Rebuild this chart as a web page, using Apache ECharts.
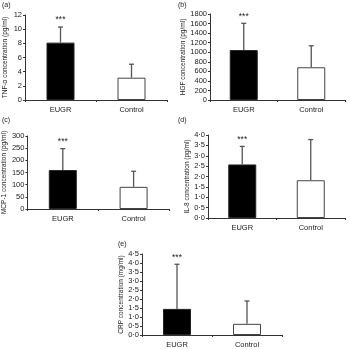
<!DOCTYPE html>
<html>
<head>
<meta charset="utf-8">
<script src="https://cdn.jsdelivr.net/npm/echarts@6/dist/echarts.min.js"></script>
<style>
  html, body { margin: 0; padding: 0; background: #fff; }
  #chart { width: 350px; height: 349px; }
</style>
</head>
<body>
<div id="chart"></div>
<script>
const categories = ['EUGR', 'Control'];

// mean and upper end of the error bar, per panel
const tnfMean = [8.1, 3.15];
const tnfUpper = [10.3, 5.05];
const hgfMean = [1045, 685];
const hgfUpper = [1605, 1135];
const mcpMean = [160, 91];
const mcpUpper = [248, 155];
const il8Mean = [2.58, 1.82];
const il8Upper = [3.45, 3.78];
const crpMean = [1.45, 0.62];
const crpUpper = [3.93, 1.89];

const tnfTicks = [0, 12, 2];
const hgfTicks = [0, 1800, 200];
const mcpTicks = [0, 300, 50];
const il8Ticks = [0, 4, 0.5];
const crpTicks = [0, 4.5, 0.5];

const myChart = echarts.init(document.getElementById('chart'));

const font = 'Liberation Sans, Arial, sans-serif';
const axisColor = '#333';

const panels = [
  {label: '(a)', lx: 2, ly: 2, grid: {left: 25, top: 15, width: 142, height: 85},
   name: 'TNF-α concentration (pg/ml)', ticks: tnfTicks, mean: tnfMean, upper: tnfUpper, dot: false},
  {label: '(b)', lx: 178, ly: 2, grid: {left: 210, top: 14, width: 135, height: 86},
   name: 'HGF concentration (pg/ml)', ticks: hgfTicks, mean: hgfMean, upper: hgfUpper, dot: false},
  {label: '(c)', lx: 2, ly: 117, grid: {left: 25, top: 136, width: 144, height: 73},
   name: 'MCP-1 concentration (pg/ml)', ticks: mcpTicks, mean: mcpMean, upper: mcpUpper, dot: false},
  {label: '(d)', lx: 178, ly: 117, grid: {left: 208, top: 135, width: 137, height: 83},
   name: 'IL-8 concentration (pg/ml)', ticks: il8Ticks, mean: il8Mean, upper: il8Upper, dot: true},
  {label: '(e)', lx: 118, ly: 241, grid: {left: 142, top: 254, width: 140, height: 84},
   name: 'CRP concentration (mg/ml)', ticks: crpTicks, mean: crpMean, upper: crpUpper, dot: true}
];

let grid = [], xAxis = [], yAxis = [], series = [], graphic = [];

panels.forEach((p, i) => {
  grid.push(p.grid);
  graphic.push({
    type: 'text', left: p.lx, top: p.ly,
    style: {text: p.label, fontSize: 7, fontFamily: font, fill: '#222'}
  });
  xAxis.push({
    type: 'category',
    gridIndex: i,
    data: categories,
    axisLine: {lineStyle: {color: axisColor, width: 1}},
    axisTick: {show: true, length: 2, lineStyle: {color: axisColor}},
    axisLabel: {fontSize: 7.5, fontFamily: font, color: '#222', margin: 6}
  });
  yAxis.push({
    type: 'value',
    gridIndex: i,
    min: p.ticks[0],
    max: p.ticks[1],
    interval: p.ticks[2],
    name: p.name,
    nameLocation: 'middle',
    nameGap: 16,
    nameTextStyle: {fontSize: 6.5, fontFamily: font, color: '#222'},
    axisLine: {show: true, lineStyle: {color: axisColor, width: 1}},
    axisTick: {show: true, length: 2, lineStyle: {color: axisColor}},
    splitLine: {show: false},
    axisLabel: {
      fontSize: 7.5, fontFamily: font, color: '#222', margin: 3,
      formatter: v => p.dot ? v.toFixed(1).replace('.', '·') : String(v)
    }
  });
  series.push({
    type: 'bar',
    xAxisIndex: i,
    yAxisIndex: i,
    barWidth: 28,
    data: [
      {value: p.mean[0], itemStyle: {color: '#000', borderColor: '#222', borderWidth: 1}},
      {value: p.mean[1], itemStyle: {color: '#fff', borderColor: '#444', borderWidth: 1}}
    ]
  });
  series.push({
    type: 'custom',
    xAxisIndex: i,
    yAxisIndex: i,
    z: 3,
    data: categories.map((c, k) => [k, p.mean[k], p.upper[k]]),
    renderItem: (params, api) => {
      const base = api.coord([api.value(0), api.value(1)]);
      const top = api.coord([api.value(0), api.value(2)]);
      const children = [
        {type: 'line', shape: {x1: base[0], y1: base[1], x2: top[0], y2: top[1]},
         style: {stroke: '#555', lineWidth: 1.3}},
        {type: 'line', shape: {x1: top[0] - 2.5, y1: top[1], x2: top[0] + 2.5, y2: top[1]},
         style: {stroke: '#555', lineWidth: 1.3}}
      ];
      if (params.dataIndex === 0) {
        children.push({
          type: 'text',
          style: {text: '***', x: top[0], y: top[1] - 7, align: 'center', verticalAlign: 'middle',
                  fontSize: 8.5, fontFamily: font, fill: '#222'}
        });
      }
      return {type: 'group', children: children};
    }
  });
});

myChart.setOption({
  animation: false,
  grid: grid,
  xAxis: xAxis,
  yAxis: yAxis,
  series: series,
  graphic: graphic
});
</script>
</body>
</html>
